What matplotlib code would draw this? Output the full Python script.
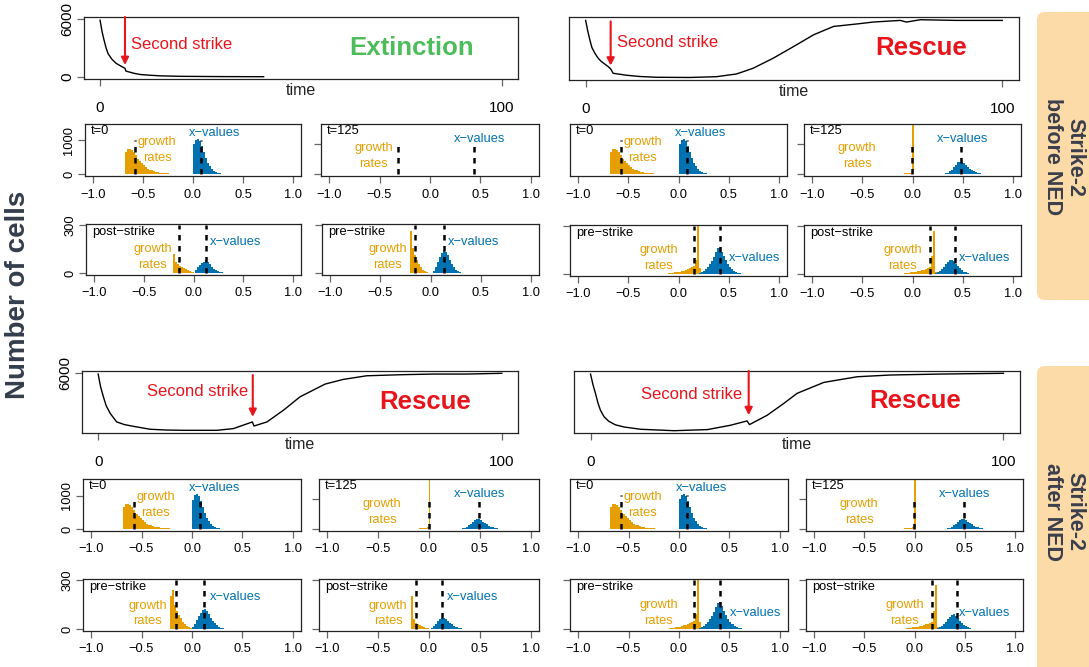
import numpy as np
import matplotlib.pyplot as plt
import matplotlib.transforms as mtransforms
from matplotlib.patches import FancyBboxPatch

plt.rcParams['font.family'] = ['Liberation Sans', 'DejaVu Sans']

W, H = 1089, 667
ORANGE = '#E69F00'
BLUE = '#0072B2'
RED = '#e8141c'
GREEN = '#4dbd5a'
BW = 0.02

# ---- number of cells over time, one curve per scenario ----
tl_t = [0, 0.5, 1, 1.5, 2, 3, 4, 5, 6.2, 6.4, 7, 8.5, 10, 12.5, 15, 20, 30, 40.7]
tl_n = [5900, 4700, 3800, 3000, 2400, 1800, 1400, 1150, 880, 600, 520, 350, 230, 150,
        90, 40, 12, 0]

tr_t = [0, 0.5, 1, 1.5, 2.2, 3, 3.8, 5.4, 6.0, 6.6, 9.8, 13, 17, 25, 31.4, 36.2, 40.2, 45,
        49.9, 54.7, 59.5, 65, 69, 75.5, 77, 80.3, 89, 100]
tr_n = [5890, 4800, 3900, 3100, 2520, 2000, 1650, 1140, 900, 450, 250, 120, 40, 20, 100,
        380, 970, 2000, 3200, 4410, 5270, 5520, 5720, 5890, 5720, 5960, 5890, 5890]

bl_t = [0, 0.6, 1.3, 2, 3, 4.6, 6.5, 8.7, 12.9, 17, 21.1, 29.4, 33.5, 38.2, 38.6, 41.8,
        45.9, 50, 56.2, 60.7, 66.5, 74.8, 83, 91.3, 100]
bl_n = [5920, 4600, 3540, 2600, 1800, 915, 640, 460, 150, 70, 40, 40, 220, 915, 490, 915,
        2140, 3540, 4870, 5360, 5740, 5850, 5920, 5920, 6000]

br_t = [0, 0.6, 1.2, 1.8, 2.4, 3.3, 4.4, 6, 8.1, 12.1, 20.2, 28.3, 33.9, 37.9, 38.5, 42.8,
        46.8, 50, 56.5, 64.6, 72.6, 84.7, 100]
br_n = [5920, 4800, 3900, 2900, 2140, 1450, 990, 620, 390, 150, 0, 115, 570, 1020, 640,
        1620, 2850, 3900, 5050, 5640, 5820, 5920, 6000]

strike_early = 6.2
strike_late = 38.3

# ---- histograms: (first bin edge, counts per 0.02 bin) ----
t0_growth = (-0.68, [660, 740, 755, 720, 650, 560, 450, 380, 320, 260, 210, 165, 135,
                     110, 88, 70, 58, 48, 40, 32, 26, 20, 16, 12, 9, 6, 4])
t0_x = (0.0, [880, 1020, 1050, 980, 830, 650, 480, 340, 240, 160, 105, 68, 42, 26, 15, 8, 4])
t0_means = (-0.577, 0.083)

ext125_means = (-0.317, 0.433)

tl_post_growth = (-0.21, [120, 72, 55, 45, 38, 30, 24, 18, 12, 7, 4])
tl_post_x = (0.02, [20, 35, 50, 62, 72, 80, 72, 55, 40, 28, 18, 12, 8, 5, 3, 1])
tl_post_means = (-0.15, 0.127)

tl_pre_growth = (-0.20, [264, 154, 110, 80, 55, 35, 20, 10, 5, 3, 1])
tl_pre_x = (0.02, [10, 40, 70, 100, 125, 138, 132, 110, 80, 55, 35, 22, 13, 7, 3])
tl_pre_means = (-0.15, 0.135)

tr125_growth = (-0.30, [2, 3, 4, 5, 6, 8, 10, 12, 15, 18, 22, 26, 30, 36, 45])
tr125_spike = (-0.004, 5000)
tr125_x = (0.28, [5, 12, 25, 50, 90, 150, 230, 320, 390, 410, 400, 360, 300, 240, 185,
                  140, 100, 70, 48, 32, 20, 12, 7, 4, 2])
tr125_means = (-0.005, 0.483)

tr_pre_growth = (-0.10, [4, 6, 8, 10, 12, 15, 18, 22, 26, 31, 37, 44, 52, 90, 420, 40])
tr_pre_x = (0.20, [5, 12, 20, 30, 45, 60, 80, 105, 135, 160, 165, 140, 110, 85, 62, 45,
                   30, 20, 12, 7, 4, 2])
tr_pre_means = (0.153, 0.41)

tr_post_growth = (-0.08, [4, 6, 8, 10, 12, 14, 17, 20, 24, 28, 33, 38, 45, 110, 270, 10])
tr_post_x = (0.22, [6, 12, 20, 32, 45, 60, 75, 88, 90, 80, 65, 50, 36, 25, 16, 10, 6, 3, 2, 1])
tr_post_means = (0.176, 0.42)

after125_growth = (-0.30, [2, 3, 4, 5, 6, 8, 10, 12, 15, 20, 26, 34, 45, 55, 60])
after125_spike = (-0.004, 5000)
after125_x = (0.26, [4, 8, 15, 28, 50, 85, 130, 185, 245, 295, 330, 330, 300, 255, 205,
                     160, 120, 88, 62, 42, 28, 18, 11, 6, 3, 2, 1, 1, 1])
after125_means = (-0.004, 0.495)

bl_pre_growth = (-0.22, [200, 240, 150, 110, 85, 65, 45, 30, 20, 12, 6, 3])
bl_pre_x = (0.0, [10, 30, 55, 80, 100, 115, 122, 110, 90, 70, 50, 35, 24, 15, 9, 5, 3, 1, 1])
bl_pre_means = (-0.163, 0.123)

bl_post_growth = (-0.18, [199, 60, 38, 30, 24, 18, 13, 9, 6, 3])
bl_post_x = (0.02, [8, 18, 32, 48, 60, 67, 69, 62, 50, 38, 28, 20, 13, 8, 5, 3, 2, 1])
bl_post_means = (-0.13, 0.13)

br_pre_means = (0.153, 0.41)
br_post_means = (0.17, 0.42)

hist_ticks = [-1.0, -0.5, 0.0, 0.5, 1.0]
hist_ticklabels = ['\u22121.0', '\u22120.5', '0.0', '0.5', '1.0']

fig = plt.figure(figsize=(W / 100, H / 100), dpi=100)

# background layer in pixel coordinates for strips and the shared label
bg = fig.add_axes([0, 0, 1, 1])
bg.set_xlim(0, W)
bg.set_ylim(H, 0)
bg.axis('off')
for y0, y1, txt, yc in [(12, 300, 'Strike-2\nbefore NED', 157),
                        (366, 700, 'Strike-2\nafter NED', 512)]:
    bg.add_patch(FancyBboxPatch((1037, y0), 90, y1 - y0,
                                boxstyle='round,pad=0,rounding_size=8',
                                fc='#fddba8', ec='none'))
    bg.text(1064, yc, txt, rotation=-90, ha='center', va='center', fontsize=15.5,
            fontweight='bold', color='#3a3f4c', linespacing=1.1, multialignment='center')
bg.text(18, 295, 'Number of cells', rotation=90, ha='center', va='center',
        fontsize=20, fontweight='bold', color='#343d4b')


def px_axes(x0, y0, x1, y1):
    return fig.add_axes([x0 / W, 1 - y1 / H, (x1 - x0) / W, (y1 - y0) / H])


def style_box(ax):
    for s in ax.spines.values():
        s.set_linewidth(0.9)
        s.set_color('#222222')
    ax.tick_params(color='#666666', width=0.9)


def time_panel(box, t, n, strike, arrow, note, outcome, colour, outpos, yticks):
    ax = px_axes(*box)
    style_box(ax)
    ax.plot(t, n, color='black', lw=1)
    ax.set_xlim(-4, 104)
    ax.set_ylim(-240, 6240)
    ax.set_xticks([0, 100], ['0', '100'])
    ax.tick_params(axis='x', length=5, pad=11, labelsize=11)
    ax.set_yticks(yticks, [str(v) for v in yticks])
    ax.tick_params(axis='y', length=5, pad=2, labelsize=11, labelrotation=90)
    for lab in ax.get_yticklabels():
        lab.set_va('center')
    ax.text(0.5, -0.19, 'time', transform=ax.transAxes, ha='center', va='center',
            fontsize=11.5, color='#222222')
    ax.annotate('', xy=(strike, arrow[1]), xytext=(strike, arrow[0]),
                arrowprops=dict(arrowstyle='-|>', color=RED, lw=1.5,
                                mutation_scale=11, shrinkA=0, shrinkB=0))
    ax.text(note[0], note[1], 'Second strike', ha=note[2], va='center',
            fontsize=12, color=RED)
    ax.text(outpos[0], outpos[1], outcome, ha='center', va='center', fontsize=18.5,
            fontweight='bold', color=colour)
    return ax


def bars(ax, data, colour, width=BW):
    start, counts = data
    edges = start + width * np.arange(len(counts) + 1)
    ax.stairs(counts, edges, fill=True, color=colour, lw=0)


def hist_panel(box, tag, growth, xvals, means, lab, row, yticks=True, ylabels=False,
               spike=None, ylim=None):
    ax = px_axes(*box)
    style_box(ax)
    if growth is not None:
        bars(ax, growth, ORANGE)
    if spike is not None:
        ax.stairs([spike[1]], [spike[0], spike[0] + 0.014], fill=True, color=ORANGE, lw=0)
    if xvals is not None:
        bars(ax, xvals, BLUE)
    top = 1000 if row == 1 else 300
    ax.vlines(means, 0, top, colors='black', linestyles=(0, (2.2, 2.2)), lw=1.8)
    ax.set_xlim(-1.08, 1.08)
    if ylim is None:
        ylim = (-55, 1480) if row == 1 else (-12, 306)
    ax.set_ylim(*ylim)
    ax.set_xticks(hist_ticks, hist_ticklabels)
    ax.tick_params(axis='x', length=5, pad=4, labelsize=9.3)
    if yticks:
        ax.set_yticks([0, top], ['0', str(top)] if ylabels else ['', ''])
        ax.tick_params(axis='y', length=5, pad=2, labelsize=9.3, labelrotation=90)
        for lb in ax.get_yticklabels():
            lb.set_va('center')
    else:
        ax.set_yticks([])
    tr = mtransforms.blended_transform_factory(ax.transData, ax.transAxes)
    tag_y = 0.86 if row == 1 else 0.84
    ax.text(-1.02, tag_y, tag, transform=tr, ha='left', va='center', fontsize=9.3)
    gx, xx, gy, ry, xy = lab
    ax.text(gx, gy, 'growth', transform=tr, ha='center', va='center', fontsize=9.3, color=ORANGE)
    ax.text(gx, ry, 'rates', transform=tr, ha='center', va='center', fontsize=9.3, color=ORANGE)
    ax.text(xx, xy, 'x\u2212values', transform=tr, ha='center', va='center', fontsize=9.3, color=BLUE)
    return ax


lab_t0 = (-0.36, 0.22, 0.65, 0.35, 0.83)
ylim125 = (-60, 1670)

# ---- top left: strike-2 before NED, extinction ----
time_panel((84, 17, 518, 79), tl_t, tl_n, strike_early, (6240, 1220), (7.7, 3330, 'left'),
           'Extinction', GREEN, (77.4, 3050), [0, 6000])
hist_panel((85, 124, 301, 176), 't=0', t0_growth, t0_x, t0_means, lab_t0, 1, ylabels=True)
hist_panel((321, 124, 539, 176), 't=125', None, None, ext125_means,
           (-0.557, 0.493, 0.53, 0.23, 0.72), 1, ylim=ylim125)
hist_panel((86, 224, 301, 275), 'post\u2212strike', tl_post_growth, tl_post_x, tl_post_means,
           (-0.41, 0.425, 0.5, 0.2, 0.65), 2, ylabels=True)
hist_panel((322, 224, 539, 275), 'pre\u2212strike', tl_pre_growth, tl_pre_x, tl_pre_means,
           (-0.425, 0.43, 0.5, 0.2, 0.65), 2)

# ---- top right: strike-2 before NED, rescue ----
time_panel((569, 17, 1019, 80), tr_t, tr_n, 6.0, (5785, 1240), (7.6, 3615, 'left'),
           'Rescue', RED, (80.5, 3100), [])
hist_panel((570, 124, 787, 176), 't=0', t0_growth, t0_x, t0_means, lab_t0, 1, yticks=False)
hist_panel((804, 124, 1021, 176), 't=125', tr125_growth, tr125_x, tr125_means,
           (-0.55, 0.5, 0.54, 0.24, 0.72), 1, spike=tr125_spike, ylim=ylim125)
hist_panel((570, 225, 787, 276), 'pre\u2212strike', tr_pre_growth, tr_pre_x, tr_pre_means,
           (-0.20, 0.76, 0.51, 0.2, 0.35), 2)
hist_panel((804, 225, 1021, 276), 'post\u2212strike', tr_post_growth, tr_post_x, tr_post_means,
           (-0.10, 0.72, 0.51, 0.2, 0.35), 2)

# ---- bottom left: strike-2 after NED, rescue ----
time_panel((82, 371, 518, 433), bl_t, bl_n, strike_late, (5820, 1440), (37.2, 4060, 'right'),
           'Rescue', RED, (81.1, 3010), [6000])
hist_panel((83, 479, 301, 531), 't=0', t0_growth, t0_x, t0_means, lab_t0, 1, ylabels=True,
           ylim=(-60, 1500))
hist_panel((319, 479, 539, 531), 't=125', after125_growth, after125_x, after125_means,
           (-0.46, 0.5, 0.51, 0.21, 0.71), 1, spike=after125_spike, ylim=ylim125)
hist_panel((83, 579, 301, 631), 'pre\u2212strike', bl_pre_growth, bl_pre_x, bl_pre_means,
           (-0.44, 0.43, 0.49, 0.19, 0.65), 2, ylabels=True)
hist_panel((319, 579, 539, 631), 'post\u2212strike', bl_post_growth, bl_post_x, bl_post_means,
           (-0.40, 0.43, 0.49, 0.19, 0.65), 2)

# ---- bottom right: strike-2 after NED, rescue ----
time_panel((574, 371, 1020, 433), br_t, br_n, strike_late, (6240, 1620), (36.7, 3790, 'right'),
           'Rescue', RED, (78.5, 3120), [])
hist_panel((570, 479, 788, 531), 't=0', t0_growth, t0_x, t0_means, lab_t0, 1, yticks=False)
hist_panel((806, 479, 1023, 531), 't=125', after125_growth, after125_x, after125_means,
           (-0.55, 0.5, 0.51, 0.21, 0.71), 1, spike=after125_spike, ylim=ylim125)
hist_panel((570, 579, 788, 631), 'pre\u2212strike', tr_pre_growth, tr_pre_x, br_pre_means,
           (-0.20, 0.76, 0.5, 0.19, 0.35), 2)
hist_panel((806, 579, 1023, 631), 'post\u2212strike', tr_post_growth, tr_post_x, br_post_means,
           (-0.10, 0.70, 0.5, 0.19, 0.35), 2)

fig.savefig('out.png', dpi=100)
